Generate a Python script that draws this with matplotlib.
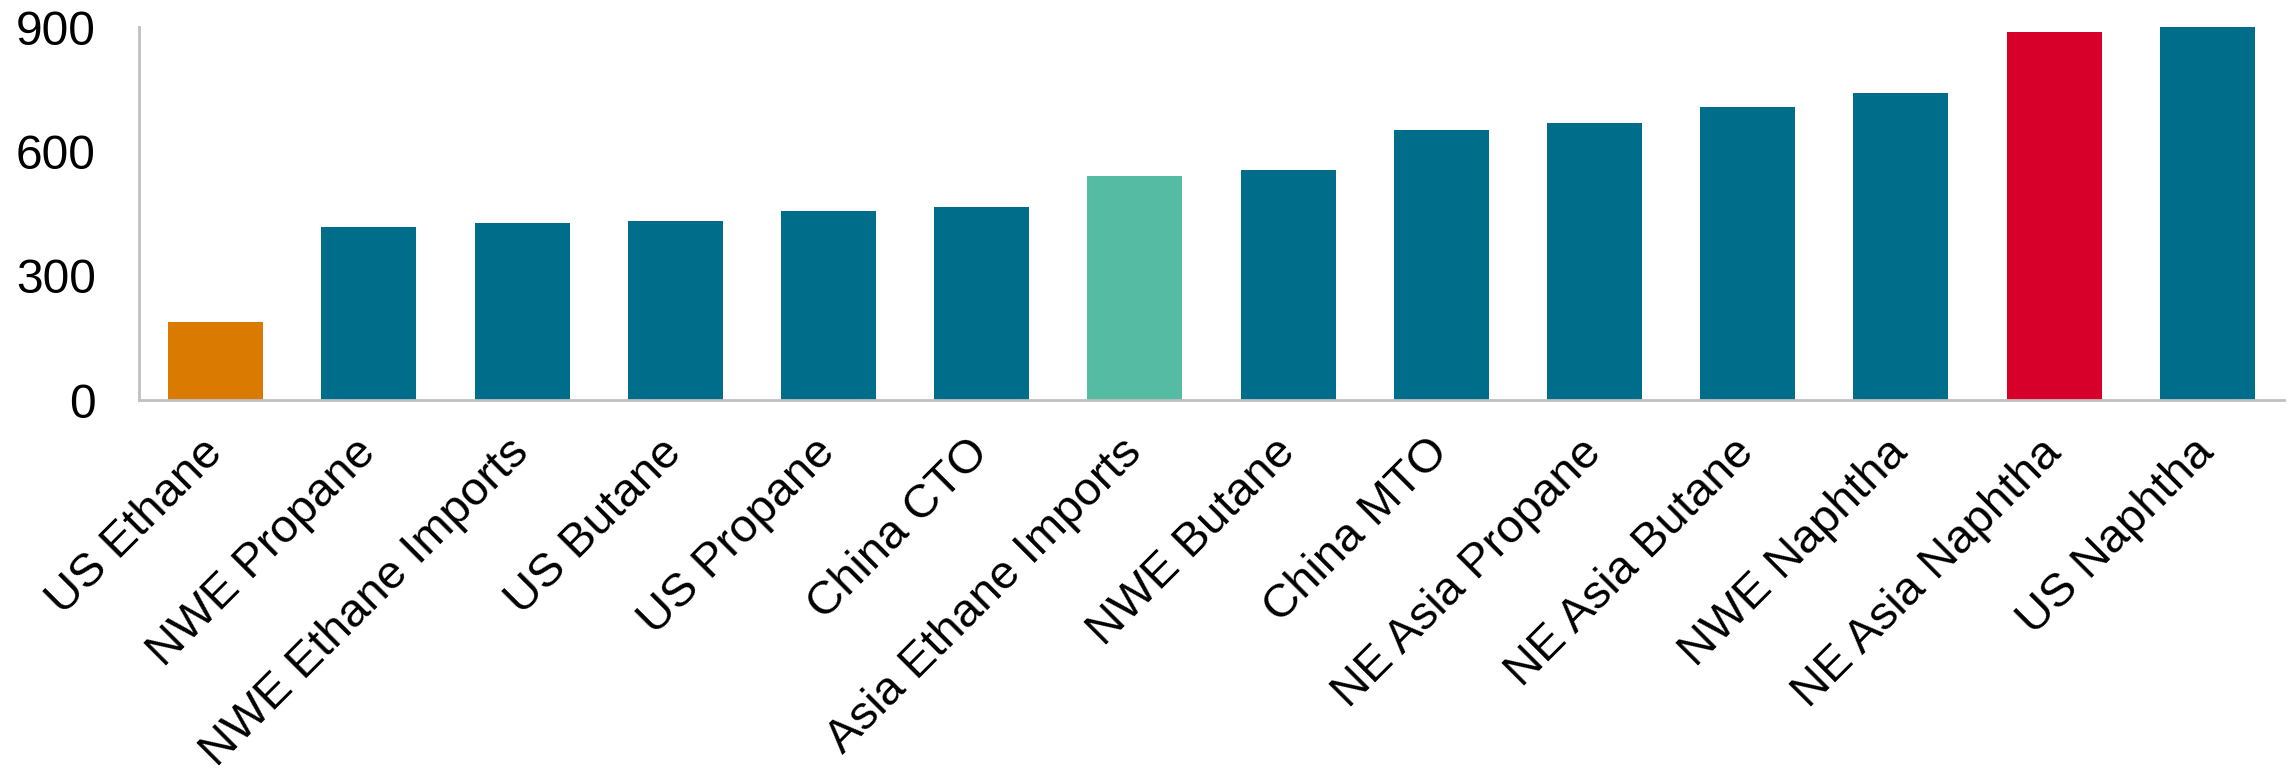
import matplotlib.pyplot as plt

plt.rcParams['font.family'] = ['Liberation Sans', 'DejaVu Sans']

categories = ["US Ethane", "NWE Propane", "NWE Ethane Imports", "US Butane",
              "US Propane", "China CTO", "Asia Ethane Imports", "NWE Butane",
              "China MTO", "NE Asia Propane", "NE Asia Butane", "NWE Naphtha",
              "NE Asia Naphtha", "US Naphtha"]
values = [188, 417, 427, 433, 457, 467, 541, 555, 651, 668, 707, 741, 888, 900]
colors = ["#DA7A00"] + ["#006E8A"] * 5 + ["#55BBA2"] + ["#006E8A"] * 5 + ["#D6002A", "#006E8A"]
y_ticks = [0, 300, 600, 900]

fig = plt.figure(figsize=(22.92, 7.79), dpi=100)
ax = fig.add_axes([139 / 2292, 1 - 400 / 779, (2284 - 139) / 2292, (400 - 27.3) / 779])

x = range(len(categories))
ax.bar(x, values, width=0.62, color=colors, zorder=2)

ax.set_xlim(-0.5, len(categories) - 0.5)
ax.set_ylim(0, 900)
ax.set_yticks(y_ticks)
ax.set_xticks(list(x))
ax.set_xticklabels(categories, rotation=45, ha="right", va="center",
                   rotation_mode="anchor", fontsize=34)
ax.tick_params(axis="y", labelsize=34.5, length=0, pad=31)
ax.tick_params(axis="x", length=0, pad=33)

for side in ["top", "right"]:
    ax.spines[side].set_visible(False)
for side in ["left", "bottom"]:
    ax.spines[side].set_color("#C0C0C0")
    ax.spines[side].set_linewidth(2)

fig.savefig("out.png", dpi=100)
